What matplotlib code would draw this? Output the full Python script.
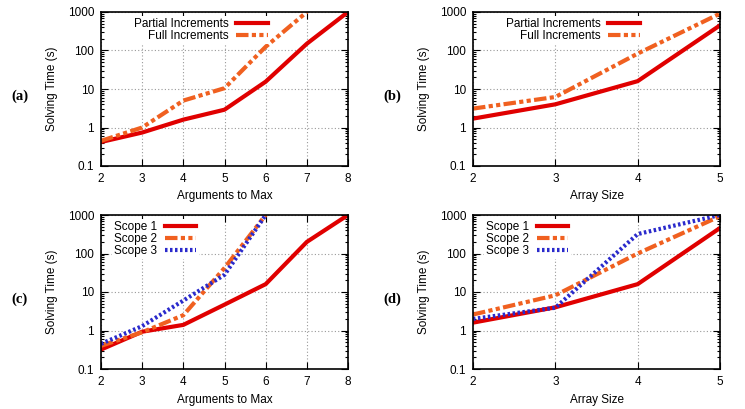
import matplotlib
matplotlib.use("Agg")
import matplotlib.pyplot as plt
from matplotlib.ticker import FixedLocator, LogLocator, NullFormatter

plt.rcParams['font.family'] = ['Liberation Sans', 'DejaVu Sans']

# (a) arguments to max
args_x = [2, 3, 4, 5, 6, 7, 8]
a_partial = [0.42, 0.74, 1.6, 2.9, 15.5, 150, 1000]
a_full = [0.45, 1.0, 5.0, 10.5, 125, 1000]

# (b) array size
size_x = [2, 3, 4, 5]
b_partial = [1.7, 4.0, 16, 450]
b_full = [3.1, 6.2, 83, 910]

# (c) scopes, arguments to max
c_scope1 = [0.32, 0.93, 1.4, 4.7, 16, 200, 1000]
c_scope2 = [0.4, 0.9, 2.5, 42, 1000]
c_scope3 = [0.45, 1.3, 6.0, 28, 1000]

# (d) scopes, array size
d_scope1 = [1.6, 4.0, 16, 460]
d_scope2 = [2.6, 8.2, 100, 930]
d_scope3 = [2.0, 3.9, 320, 1000]

RED = '#e00000'
ORANGE = '#f06020'
BLUE = '#2a2acc'

solid = dict(color=RED, lw=3.0, ls='-')
dashdot = dict(color=ORANGE, lw=3.0, ls=(0, (3, 0.8, 1, 0.8, 1, 0.8)))
dotted = dict(color=BLUE, lw=3.0, ls=(0, (0.6, 0.6)))

fig = plt.figure(figsize=(7.45, 4.09), dpi=100)

W = 247 / 745
H = 154 / 409
pos = {
    'a': [101 / 745, (409 - 166) / 409, W, H],
    'b': [473 / 745, (409 - 166) / 409, W, H],
    'c': [101 / 745, (409 - 369) / 409, W, H],
    'd': [473 / 745, (409 - 369) / 409, W, H],
}


def style(ax, xticks, xlabel, tag):
    ax.set_yscale('log')
    ax.set_ylim(0.1, 1000)
    ax.set_xlim(xticks[0], xticks[-1])
    ax.xaxis.set_major_locator(FixedLocator(xticks))
    ax.yaxis.set_major_locator(FixedLocator([0.1, 1, 10, 100, 1000]))
    ax.set_yticklabels(['0.1', '1', '10', '100', '1000'])
    ax.yaxis.set_minor_locator(LogLocator(base=10, subs=range(2, 10)))
    ax.yaxis.set_minor_formatter(NullFormatter())
    ax.tick_params(which='both', direction='in', top=True, right=True,
                   labelsize=8.5, width=0.8)
    ax.tick_params(which='major', length=5, pad=5)
    ax.tick_params(which='minor', length=2.5)
    ax.grid(True, which='major', color='#999999', ls=(0, (1, 2)), lw=0.8)
    for s in ax.spines.values():
        s.set_linewidth(1.2)
    ax.set_xlabel(xlabel, fontsize=8.5, labelpad=4)
    ax.set_ylabel('Solving Time (s)', fontsize=8.5, labelpad=7)
    ax.text(-0.328, 0.455, tag, transform=ax.transAxes, fontsize=10.5,
            fontweight='bold', family='Liberation Serif', ha='center', va='center')


def legend(ax, **kw):
    leg = ax.legend(frameon=True, fancybox=False, markerfirst=False,
                    fontsize=8.5, handlelength=2.7, handletextpad=0.6,
                    labelspacing=0.0, borderpad=0.2, borderaxespad=0.3, **kw)
    leg.get_frame().set_edgecolor('none')
    leg.get_frame().set_alpha(1.0)
    for t in leg.get_texts():
        t.set_ha('right')
    return leg


ax = fig.add_axes(pos['a'])
ax.plot(args_x, a_partial, label='Partial Increments', **solid)
ax.plot(args_x[:len(a_full)], a_full, label='Full Increments', **dashdot)
style(ax, args_x, 'Arguments to Max', '(a)')
legend(ax, loc='upper right', bbox_to_anchor=(0.7, 1.0))

ax = fig.add_axes(pos['b'])
ax.plot(size_x, b_partial, label='Partial Increments', **solid)
ax.plot(size_x, b_full, label='Full Increments', **dashdot)
style(ax, size_x, 'Array Size', '(b)')
legend(ax, loc='upper right', bbox_to_anchor=(0.7, 1.0))

ax = fig.add_axes(pos['c'])
ax.plot(args_x, c_scope1, label='Scope 1', **solid)
ax.plot(args_x[:len(c_scope2)], c_scope2, label='Scope 2', **dashdot)
ax.plot(args_x[:len(c_scope3)], c_scope3, label='Scope 3', **dotted)
style(ax, args_x, 'Arguments to Max', '(c)')
legend(ax, loc='upper left', bbox_to_anchor=(0.03, 1.0))

ax = fig.add_axes(pos['d'])
ax.plot(size_x, d_scope1, label='Scope 1', **solid)
ax.plot(size_x, d_scope2, label='Scope 2', **dashdot)
ax.plot(size_x, d_scope3, label='Scope 3', **dotted)
style(ax, size_x, 'Array Size', '(d)')
legend(ax, loc='upper left', bbox_to_anchor=(0.03, 1.0))

fig.savefig('out.png', dpi=100)
